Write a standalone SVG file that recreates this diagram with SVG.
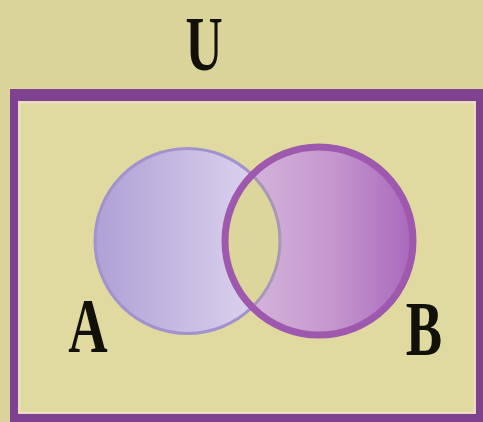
<svg xmlns="http://www.w3.org/2000/svg" width="483" height="422" viewBox="0 0 483 422">
  <defs>
    <linearGradient id="gA" x1="0" y1="0" x2="1" y2="0">
      <stop offset="0" stop-color="#AFA0D6"/>
      <stop offset="0.75" stop-color="#D5CBEA"/>
      <stop offset="1" stop-color="#E2D6F0"/>
    </linearGradient>
    <linearGradient id="gB" x1="0" y1="0" x2="1" y2="0">
      <stop offset="0" stop-color="#D9BEE0"/>
      <stop offset="0.6" stop-color="#C394CC"/>
      <stop offset="1" stop-color="#A866BC"/>
    </linearGradient>
    <style>
      .lbl { font-family: "Liberation Serif", "Times New Roman", serif; font-weight: bold; font-size: 78px; fill: #111108; }
    </style>
  </defs>
  <rect width="483" height="422" fill="#DAD49A"/>
  <g id="universe">
    <rect x="10" y="89" width="480" height="340" fill="#7E4290"/>
    <rect x="18" y="101" width="458" height="313" fill="#E0DAA0"/>
    <rect x="19.5" y="102.5" width="455" height="310" fill="none" stroke="#EEDCC8" stroke-width="2"/>
  </g>
  <g id="setA">
    <circle cx="187.5" cy="241" r="92.5" fill="url(#gA)" stroke="#A292CE" stroke-width="3"/>
  </g>
  <g id="setB">
    <circle cx="319" cy="241" r="97" fill="url(#gB)"/>
    <path d="M250,172.8 A92.5,92.5 0 0 1 250,309.2 A97,97 0 0 1 250,172.8 Z" fill="#DCD69C"/>
    <path d="M250,172.8 A92.5,92.5 0 0 1 250,309.2" fill="none" stroke="#A699B8" stroke-width="3"/>
    <circle cx="319" cy="241" r="94" fill="none" stroke="#9E58AE" stroke-width="7"/>
  </g>
  <g id="labels">
    <text class="lbl" transform="translate(204,70) scale(0.66,1)" text-anchor="middle">U</text>
    <text class="lbl" transform="translate(88,352) scale(0.7,1)" text-anchor="middle">A</text>
    <text class="lbl" transform="translate(424,355) scale(0.7,1)" text-anchor="middle">B</text>
  </g>
</svg>
